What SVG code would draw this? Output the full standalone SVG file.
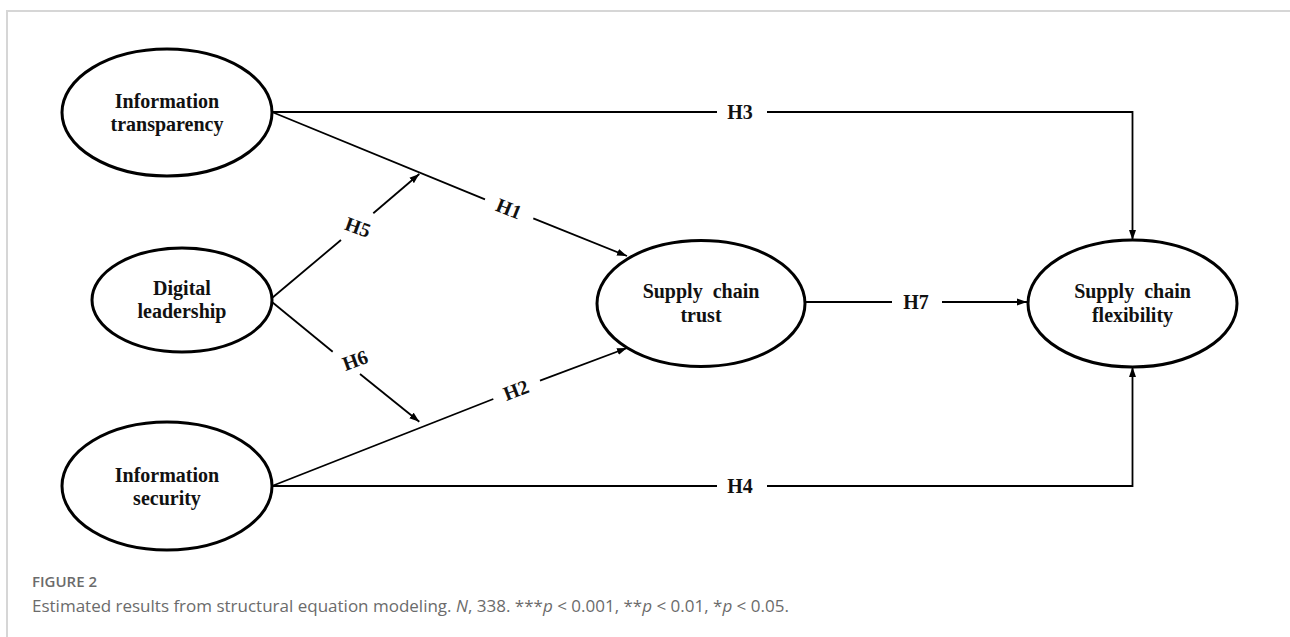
<svg xmlns="http://www.w3.org/2000/svg" width="1290" height="637" viewBox="0 0 1290 637">
<style>
.node ellipse{fill:#fff;stroke:#000;stroke-width:3}
.node text,.lbl{font-family:"Liberation Serif","Times New Roman",serif;font-weight:bold;font-size:20px;fill:#111;text-anchor:middle}
.lbl{dominant-baseline:central}
.edge{fill:none;stroke:#000;stroke-width:1.8}
.cap1{font-family:"Open Sans","Liberation Sans",sans-serif;font-size:15px;font-weight:600;fill:#6b6b6b}
.cap2{font-family:"Open Sans","Liberation Sans",sans-serif;font-size:17px;fill:#6b6b6b}
</style>
<defs>
<marker id="arr" markerUnits="userSpaceOnUse" markerWidth="10" markerHeight="8" viewBox="0 0 10 8" refX="10" refY="4" orient="auto">
<path d="M0,0.5 L10,4 L0,7.5 z" fill="#000"/>
</marker>
</defs>
<rect width="1290" height="637" fill="#fff"/>
<path d="M7,637 V11 H1290" fill="none" stroke="#d6d6d6" stroke-width="2"/>

<g id="connectors">
<path class="edge" d="M272,112 H717 M767,112 H1132.5 V240" marker-end="url(#arr)"/>
<path class="edge" d="M272,486 H717 M767,486 H1132.5 V367" marker-end="url(#arr)"/>
<path class="edge" d="M272,112 L485,199.3"/>
<path class="edge" d="M533.3,218.3 L627,256" marker-end="url(#arr)"/>
<path class="edge" d="M272,486 L493.3,399"/>
<path class="edge" d="M540,380.7 L627,348" marker-end="url(#arr)"/>
<path class="edge" d="M272,298 L341,240"/>
<path class="edge" d="M373.3,213.3 L419.3,174" marker-end="url(#arr)"/>
<path class="edge" d="M272,302 L332.7,351.7"/>
<path class="edge" d="M360,374 L419.3,421.7" marker-end="url(#arr)"/>
<path class="edge" d="M806,302 H892"/>
<path class="edge" d="M942,302 H1027" marker-end="url(#arr)"/>
<text class="lbl" x="740" y="112">H3</text>
<text class="lbl" x="740" y="486">H4</text>
<text class="lbl" x="916" y="302">H7</text>
<text class="lbl" transform="translate(509,208.5) rotate(22)">H1</text>
<text class="lbl" transform="translate(516,390) rotate(-21)">H2</text>
<text class="lbl" transform="translate(358,227) rotate(20)">H5</text>
<text class="lbl" transform="translate(355,360) rotate(-20)">H6</text>
</g>

<g id="info-transparency" class="node">
<ellipse cx="167" cy="112.5" rx="105" ry="63.5"/>
<text x="167" y="108">Information</text>
<text x="167" y="131">transparency</text>
</g>
<g id="digital-leadership" class="node">
<ellipse cx="182" cy="300" rx="90" ry="52"/>
<text x="182" y="295">Digital</text>
<text x="182" y="318">leadership</text>
</g>
<g id="info-security" class="node">
<ellipse cx="167" cy="486" rx="105" ry="64"/>
<text x="167" y="482">Information</text>
<text x="167" y="505">security</text>
</g>
<g id="sc-trust" class="node">
<ellipse cx="701" cy="303.5" rx="104" ry="63"/>
<text x="701" y="298" xml:space="preserve">Supply  chain</text>
<text x="701" y="322">trust</text>
</g>
<g id="sc-flexibility" class="node">
<ellipse cx="1132.5" cy="303.5" rx="104.5" ry="63.5"/>
<text x="1132.5" y="298" xml:space="preserve">Supply  chain</text>
<text x="1132.5" y="322">flexibility</text>
</g>

<text class="cap1" x="32" y="587">FIGURE 2</text>
<text class="cap2" x="32" y="612">Estimated results from structural equation modeling. <tspan font-style="italic">N</tspan>, 338. ***<tspan font-style="italic">p</tspan> &lt; 0.001, **<tspan font-style="italic">p</tspan> &lt; 0.01, *<tspan font-style="italic">p</tspan> &lt; 0.05.</text>
</svg>
